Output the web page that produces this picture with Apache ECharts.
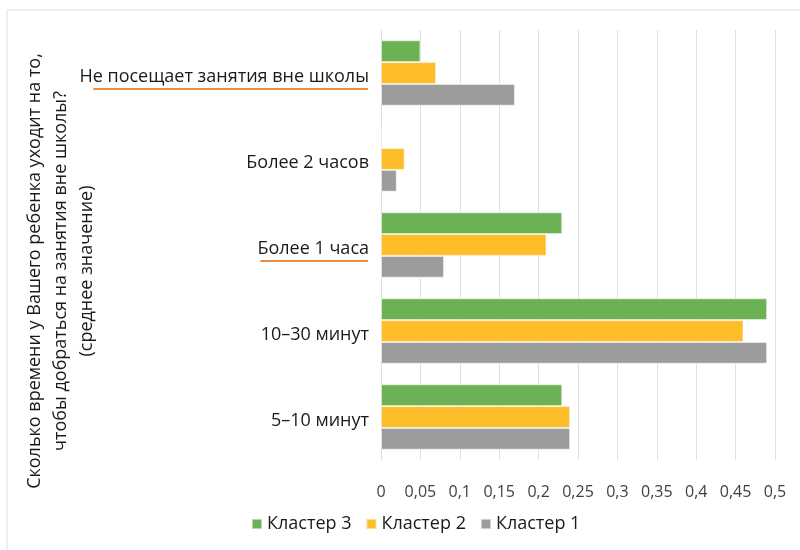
<!DOCTYPE html>
<html><head><meta charset="utf-8">
<script src="https://cdn.jsdelivr.net/npm/echarts@6/dist/echarts.min.js"></script>
<style>html,body{margin:0;padding:0;background:#fff}#c{width:800px;height:550px}</style>
</head><body><div id="c"></div>
<script>
const categories = ['5–10 минут', '10–30 минут', 'Более 1 часа', 'Более 2 часов', 'Не посещает занятия вне школы'];
const cluster1 = [0.24, 0.49, 0.08, 0.02, 0.17];
const cluster2 = [0.24, 0.46, 0.21, 0.03, 0.07];
const cluster3 = [0.23, 0.49, 0.23, 0, 0.05];
const xTicks = ['0','0,05','0,1','0,15','0,2','0,25','0,3','0,35','0,4','0,45','0,5'];
const underlined = ['Не посещает занятия вне школы', 'Более 1 часа'];
const axisTitle = 'Сколько времени у Вашего ребенка уходит на то,\nчтобы добраться на занятия вне школы?\n(среднее значение)';

const FONT = 'Open Sans';
const LBL = 18;
const chart = echarts.init(document.getElementById('c'));
const mk = (name, data, color) => ({
  name, type: 'bar', data, barGap: '0%', barCategoryGap: '24%',
  itemStyle: { color, borderColor: 'rgba(255,255,255,0.5)', borderWidth: 1 }
});
chart.setOption({
  animation: false,
  textStyle: { fontFamily: FONT },
  grid: { left: 381, right: 25, top: 30, bottom: 90 },
  xAxis: {
    type: 'value', min: 0, max: 0.5, interval: 0.05,
    axisLine: { show: false }, axisTick: { show: false },
    splitLine: { lineStyle: { color: '#dde1e6', width: 1 } },
    axisLabel: { color: '#404040', fontSize: 16, margin: 24, fontFamily: FONT,
      formatter: v => xTicks[Math.round(v / 0.05)] }
  },
  yAxis: {
    type: 'category', data: categories,
    axisLine: { show: true, lineStyle: { color: '#d9dde2' } },
    axisTick: { show: false },
    axisLabel: { color: '#1a1a1a', fontSize: LBL, margin: 12, fontFamily: FONT,
      verticalAlign: 'top', lineHeight: 24, padding: [-8, 0, 0, 0] }
  },
  legend: {
    bottom: 12, left: 246, itemWidth: 10, itemHeight: 10, itemGap: 14,
    icon: 'rect', data: ['Кластер 3', 'Кластер 2', 'Кластер 1'],
    textStyle: { color: '#1a1a1a', fontSize: LBL, fontFamily: FONT }
  },
  series: [
    mk('Кластер 3', cluster3, '#6db155'),
    mk('Кластер 2', cluster2, '#fdbd28'),
    mk('Кластер 1', cluster1, '#9b9d9d')
  ]
});

// decorations: border, rotated axis title, orange underlines under selected labels
const g = [
  { type: 'rect', shape: { x: 7, y: 10, width: 820, height: 580 }, silent: true,
    style: { fill: 'none', stroke: '#dbe1e8', lineWidth: 1 } },
  { type: 'text', x: 61, y: 271, rotation: Math.PI / 2, silent: true,
    style: { text: axisTitle, fill: '#1a1a1a', font: '18px "' + FONT + '"',
      textAlign: 'center', textVerticalAlign: 'middle', lineHeight: 26 } }
];
const measure = document.createElement('canvas').getContext('2d');
measure.font = LBL + 'px "' + FONT + '"';
underlined.forEach(name => {
  const y = chart.convertToPixel({ yAxisIndex: 0 }, name) + 16;
  const w = measure.measureText(name).width;
  const xr = chart.convertToPixel({ xAxisIndex: 0 }, 0) - 13;
  g.push({ type: 'line', silent: true,
    shape: { x1: xr - w + (name.length > 20 ? 15 : 4), y1: y, x2: xr, y2: y },
    style: { stroke: '#f08a3c', lineWidth: 2 } });
});
chart.setOption({ graphic: g });
</script></body></html>
